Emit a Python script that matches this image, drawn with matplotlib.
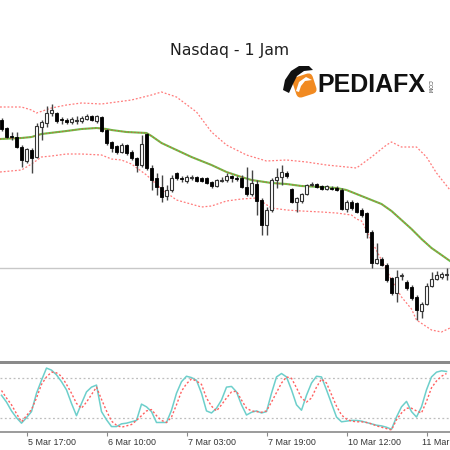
import matplotlib
matplotlib.use("Agg")
import matplotlib.pyplot as plt
from matplotlib.patches import Rectangle, FancyBboxPatch, Polygon
from matplotlib.transforms import Affine2D, ScaledTranslation
import numpy as np

# ---------------- data ----------------
title = "Nasdaq - 1 Jam"
opens = [380, 372, 364, 363, 353, 339, 350, 343, 373, 377, 387, 387, 381, 380, 378, 379.5, 379, 381, 384, 379,
         383, 370, 358, 354, 348, 355, 348, 342, 335, 366, 332, 322, 313, 304, 310, 327, 322, 319, 322.5, 323,
         322, 322, 318, 314, 319.5, 320, 324, 322, 322, 313, 306, 316, 300, 275, 290, 320, 323, 327, 311, 298,
         299, 306, 315.5, 316, 314, 311, 312, 312, 310, 291, 298, 297, 290, 287, 268, 237, 241, 235, 222, 207,
         224.5, 218, 213, 203, 189, 196, 214, 221, 223, 225.5]
highs = [382, 373, 368, 368, 355, 352, 352, 377, 380, 394, 396, 388, 383, 382, 383, 384, 384, 386, 385, 385,
         384, 371, 359, 355, 357, 356, 350, 343, 365, 367, 335, 327, 325, 315, 325, 328, 324, 325, 325, 324,
         323, 323, 319, 321, 323, 327, 325, 324, 325, 333, 330, 320, 302, 293, 322, 332, 335, 329, 312, 303,
         307, 316, 318, 317, 315, 315, 314, 314, 312, 300, 300, 298, 292, 288, 270, 257, 243, 237, 223, 230,
         227, 220, 215, 205, 198, 217, 228, 229, 228, 232]
lows = [369, 362, 360, 352, 333, 337, 327, 342, 360, 373, 384, 377, 376, 376, 376, 376, 377, 380, 379, 377,
        368, 355, 348, 346, 347, 345, 340, 328, 333, 330, 310, 305, 298, 300, 308, 320, 318, 317, 320, 318,
        318, 316, 312, 313, 318, 318, 318, 319, 312, 304, 304, 285, 265, 265, 288, 312, 315, 322, 297, 288,
        297, 305, 314, 312, 310, 310, 310, 309, 290, 288, 290, 287, 283, 262, 232, 236, 234, 218, 205, 198,
        220, 210, 200, 180, 182, 195, 213, 220, 221, 220]
closes = [371, 363, 363, 353, 340, 351, 342, 374, 378, 387, 390, 379, 380, 378, 381, 380, 382, 384, 380, 384,
          369, 357, 352, 348, 355, 347, 342, 335, 356, 332, 320, 313, 303, 310, 322, 322, 321.5, 323, 323, 319,
          319, 317, 314, 320, 320, 324, 322, 321.5, 313, 306, 317, 299, 275, 290, 320, 323, 328, 324, 298, 302,
          306, 315, 316, 313, 311, 314, 311.5, 310, 291, 298, 292, 288, 285, 268, 237, 241, 235, 220, 207, 223,
          225, 212, 202, 190, 196, 214, 221, 225, 226, 226]

ma_bars = [-0.3, 4, 6, 8, 13, 16, 19, 21, 22, 25, 29, 30, 32, 35, 38, 42, 45, 48, 50, 54, 57, 60, 64, 67, 69,
           72, 76, 78, 80, 82, 84, 86, 88, 89.7]
ma_vals = [361, 362, 363, 366, 369, 371, 372, 371, 370, 368, 367, 364, 357, 350, 343, 335, 328, 323, 320, 317,
           316, 314, 313, 312, 310, 304, 296, 289, 280, 271, 261, 252, 245, 239]

up_bars = [-0.3, 4, 6, 7, 10, 13, 16, 20, 23, 26, 30, 32, 35, 39, 42, 45, 49, 53, 57, 61, 65, 69, 71, 74, 77,
           78, 80, 83, 85, 87, 89.7]
up_vals = [393, 393, 390, 387, 392, 395, 397, 396, 398, 400, 405, 408, 403, 388, 368, 355, 345, 339, 340, 338,
           335, 333, 332, 343, 355, 358, 353, 353, 343, 327, 310]

lo_bars = [-0.3, 4, 6, 8, 10, 13, 16, 20, 22, 24, 26, 29, 32, 35, 40, 42, 45, 48, 51, 54, 57, 60, 64, 67, 70,
           71, 72, 73, 74, 76, 78, 80, 82, 83, 86, 88, 89.7]
lo_vals = [328, 330, 336, 343, 344, 346, 346, 345, 341, 340, 336, 325, 311, 300, 293, 294, 299, 301, 302, 292,
           290, 289, 288, 287, 285, 281, 279, 270, 259, 240, 220, 203, 191, 180, 170, 168, 172]

price_line = 232

stoch_k = [54, 44, 31, 21, 13, 21, 30, 57, 76, 94, 91, 84, 74, 62, 42, 24, 42, 59, 66, 69,
           30, 18, 8, 8, 12, 13, 15, 17, 41, 37, 30, 14, 14, 14, 32, 57, 74, 82, 80, 76,
           57, 31, 28, 35, 47, 66, 67, 59, 40, 25, 29, 31, 28, 30, 57, 81, 86, 81, 62, 40,
           32, 54, 72, 82, 81, 62, 42, 22, 15, 16, 17, 17, 16, 14, 12, 10, 9, 7, 4, 22,
           37, 45, 30, 22, 37, 62, 81, 88, 90, 89]
stoch_d = [61, 50, 40, 27, 15, 24, 33, 50, 70, 81, 88, 87, 82, 70, 57, 42, 35, 44, 55, 66,
           48, 31, 16, 10, 7, 9, 11, 17, 24, 31, 33, 24, 17, 14, 22, 40, 60, 71, 78, 75,
           70, 50, 38, 31, 40, 50, 59, 60, 47, 35, 31, 30, 29, 31, 44, 58, 72, 81, 79, 65,
           50, 44, 50, 66, 78, 72, 55, 38, 25, 19, 16, 15, 15, 14, 12, 9, 7, 5, 3, 18,
           28, 35, 35, 31, 28, 45, 65, 75, 82, 86]
stoch_levels = [80, 20]

tick_bars = [5, 21, 37, 53, 69, 85]
tick_labels = ["5 Mar 17:00", "6 Mar 10:00", "7 Mar 03:00", "7 Mar 19:00", "10 Mar 12:00", "11 Mar"]

# ---------------- figure ----------------
W, H = 450, 450
fig = plt.figure(figsize=(4.5, 4.5), dpi=100)
fig.patch.set_facecolor("white")

def fy(px):  # pixel from top -> figure fraction
    return 1 - px / H

x = np.arange(len(opens))
xlim = (-0.3, 89.7)

# main price window (pixels 0..361)
ax = fig.add_axes([0, fy(361), 1, 361 / H])
ax.set_xlim(*xlim)
ax.set_ylim(139, 500)
ax.axis("off")

ax.axhline(price_line, color="#c8c8c8", lw=1, zorder=1)

ax.plot(up_bars, up_vals, color="#ff7b7b", lw=0.9, ls=(0, (1.5, 1.5)), zorder=2)
ax.plot(lo_bars, lo_vals, color="#ff7b7b", lw=0.9, ls=(0, (1.5, 1.5)), zorder=2)
ax.plot(ma_bars, ma_vals, color="#6cbf4a", lw=1.5, zorder=2)
ax.plot(ma_bars, ma_vals, color="#e04a3a", lw=0.7, ls=(0, (1.2, 2.2)), zorder=3)

o = np.array(opens, float); c = np.array(closes, float)
h = np.array(highs, float); l = np.array(lows, float)
ax.vlines(x, l, h, color="#444444", lw=1.0, zorder=4)
bear = c < o
bottoms = np.minimum(o, c)
heights = np.maximum(np.abs(c - o), 0.7)
ax.bar(x[bear], heights[bear], bottom=bottoms[bear], width=0.62, color="black",
       edgecolor="black", lw=0.6, zorder=5)
ax.bar(x[~bear], heights[~bear], bottom=bottoms[~bear], width=0.62, color="white",
       edgecolor="#333333", lw=0.8, zorder=5)

# separator between windows
fig.patches.append(Rectangle((0, fy(364)), 1, 3 / H, transform=fig.transFigure,
                             facecolor="#8a8a8a", edgecolor="none", zorder=10))

# stochastic window (pixels 364..432)
ax2 = fig.add_axes([0, fy(432), 1, 68 / H])
ax2.set_xlim(*xlim)
ax2.set_ylim(0, 100)
for s in ["top", "left", "right"]:
    ax2.spines[s].set_visible(False)
ax2.spines["bottom"].set_color("#8a8a8a")
ax2.spines["bottom"].set_linewidth(1.2)
for lv in stoch_levels:
    ax2.axhline(lv, color="#bdbdbd", lw=0.9, ls=(0, (1.5, 2)), zorder=1)
ax2.plot(x, stoch_k, color="#6dcfcb", lw=1.1, zorder=3)
ax2.plot(x, stoch_d, color="#ff6060", lw=1.0, ls=(0, (1.5, 1.5)), zorder=4)
ax2.set_yticks([])
ax2.set_xticks(tick_bars)
ax2.set_xticklabels(tick_labels, family="Liberation Sans", fontsize=6.4, color="#333333")
ax2.tick_params(axis="x", length=3, width=0.8, color="#8a8a8a", pad=1.5)
labs = ax2.get_xticklabels()
for k, lab in enumerate(labs):
    dx = 2 if k < len(labs) - 1 else -5
    lab.set_horizontalalignment("left")
    lab.set_transform(lab.get_transform() + ScaledTranslation(dx / 100, 0, fig.dpi_scale_trans))

# title and logo
fig.text(230 / W, fy(50), title, ha="center", va="center", fontsize=11.3,
         family="DejaVu Sans", color="#1e1e1e")

ov = fig.add_axes([0, 0, 1, 1], zorder=20)
ov.set_xlim(0, W); ov.set_ylim(H, 0); ov.axis("off")
ov.patch.set_alpha(0)
box = FancyBboxPatch((-10.5, -10.5), 21, 21, boxstyle="round,pad=0,rounding_size=5",
                     facecolor="#f18a21", edgecolor="none")
box.set_transform(Affine2D().rotate_deg(-18).translate(304.5, 85.5) + ov.transData)
ov.add_patch(box)
ov.add_patch(Polygon([(283, 90), (285, 80), (291, 71), (299, 66), (309, 66), (313, 70), (304, 71),
                      (297, 76), (293, 84), (289, 93)], closed=True, facecolor="#111111",
                     edgecolor="none"))
ov.add_patch(Polygon([(296, 91), (299, 82), (306, 77), (312, 80), (305, 81), (301, 86), (299, 92)],
                     closed=True, facecolor="white", edgecolor="none"))
fig.text(317 / W, fy(84.5), "PEDIAFX", ha="left", va="center", fontsize=18,
         family="Liberation Sans", weight="bold", color="#111111")
fig.text(429.5 / W, fy(86), ".COM", ha="center", va="center", fontsize=3.6, rotation=-90,
         family="Liberation Sans", color="#333333")

fig.savefig("out.png", dpi=100)
